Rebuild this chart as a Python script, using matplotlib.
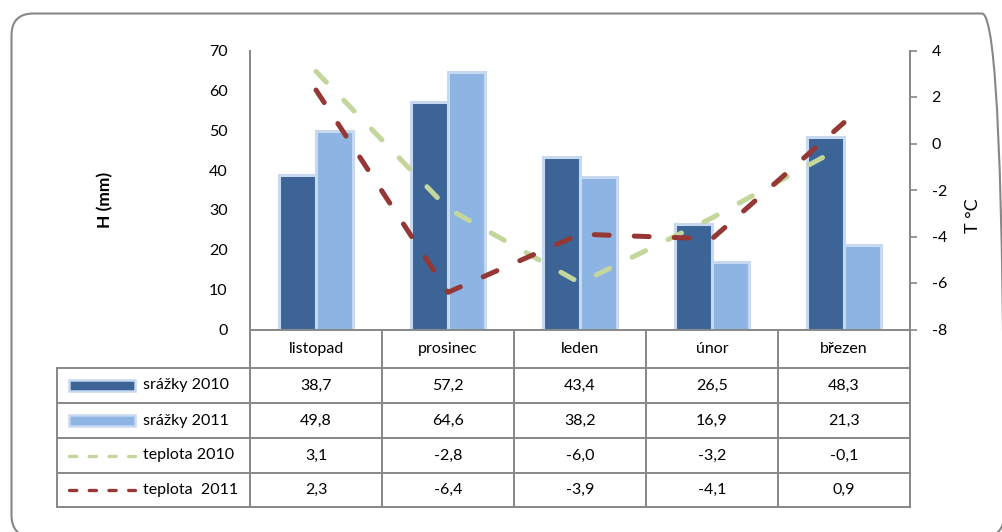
import matplotlib
matplotlib.use("Agg")
import matplotlib.pyplot as plt
from matplotlib.patches import FancyBboxPatch, Rectangle
from matplotlib.lines import Line2D

# ---- data -------------------------------------------------------------
months = ["listopad", "prosinec", "leden", "únor", "březen"]
srazky_2010 = [38.7, 57.2, 43.4, 26.5, 48.3]
srazky_2011 = [49.8, 64.6, 38.2, 16.9, 21.3]
teplota_2010 = [3.1, -2.8, -6.0, -3.2, -0.1]
teplota_2011 = [2.3, -6.4, -3.9, -4.1, 0.9]
series_names = ["srážky 2010", "srážky 2011", "teplota 2010", "teplota  2011"]
h_ticks = list(range(0, 71, 10))
t_ticks = list(range(-8, 5, 2))

# ---- style ------------------------------------------------------------
DARK = "#3c6496"
LIGHT = "#8db4e2"
BORDER = "#c6d9f1"
GREEN = "#c3d69b"
RED = "#953735"
GRID = "#878787"
FS = 11.5

plt.rcParams['font.family'] = ['Lato', 'DejaVu Sans']
plt.rcParams['axes.unicode_minus'] = False
plt.rcParams['lines.scale_dashes'] = False

W, H = 1002, 532
fig = plt.figure(figsize=(W / 100, H / 100), dpi=100)


def fx(x):
    return x / W


def fy(y):
    return 1 - y / H


# plot area (pixel coordinates, origin top-left)
PL, PR, PT, PB = 250, 910, 50.5, 329.5
ax = fig.add_axes([fx(PL), fy(PB), (PR - PL) / W, (PB - PT) / H])
ax2 = ax.twinx()

n = len(months)
x = list(range(n))
bw = 0.28

ax.bar([i - bw / 2 for i in x], srazky_2010, width=bw, color=DARK,
       edgecolor=BORDER, linewidth=2.2, zorder=2)
ax.bar([i + bw / 2 for i in x], srazky_2011, width=bw, color=LIGHT,
       edgecolor=BORDER, linewidth=2.2, zorder=2)
ax.set_xlim(-0.5, n - 0.5)
ax.set_ylim(0, 70)
ax.set_yticks(h_ticks)
ax.set_xticks([])
ax.tick_params(axis='y', length=0, pad=16, labelsize=FS)

for t, col in ((teplota_2010, GREEN), (teplota_2011, RED)):
    ax2.plot(x, t, color=col, lw=3.6, dashes=(10.8, 18),
             dash_capstyle='round', solid_capstyle='round')
ax2.set_ylim(-8, 4)
ax2.set_yticks(t_ticks)
ax2.tick_params(axis='y', length=5, width=1.2, color=GRID, pad=10.5,
                labelsize=FS)

for a in (ax, ax2):
    for s in a.spines.values():
        s.set_visible(False)
ax.spines['left'].set_visible(True)
ax.spines['bottom'].set_visible(True)
ax2.spines['right'].set_visible(True)
for s in (ax.spines['left'], ax.spines['bottom'], ax2.spines['right']):
    s.set_color(GRID)
    s.set_linewidth(1.4)

# axis titles
fig.text(fx(105), fy(200), "H (mm)", rotation=90, ha='center', va='center',
         fontsize=12.5, fontweight='bold')
fig.text(fx(973), fy(216), "T °C", rotation=90, ha='center', va='center',
         fontsize=13)

# ---- data table -------------------------------------------------------
TL = 57
rows_y = [PB, 368, 403, 438, 473, 507]
col_w = (PR - PL) / n
col_x = [PL + i * col_w for i in range(n + 1)]


def hline(x0, x1, y):
    fig.add_artist(Line2D([fx(x0), fx(x1)], [fy(y), fy(y)], color=GRID,
                          lw=1.4, transform=fig.transFigure))


def vline(xv, y0, y1):
    fig.add_artist(Line2D([fx(xv), fx(xv)], [fy(y0), fy(y1)], color=GRID,
                          lw=1.4, transform=fig.transFigure))


for yv in rows_y[1:]:
    hline(TL, PR, yv)
vline(TL, rows_y[1], rows_y[-1])
for xv in col_x:
    vline(xv, PB, rows_y[-1])

# header row with month names
for i, m in enumerate(months):
    fig.text(fx((col_x[i] + col_x[i + 1]) / 2), fy((rows_y[0] + rows_y[1]) / 2),
             m, ha='center', va='center', fontsize=FS)

table_values = [srazky_2010, srazky_2011, teplota_2010, teplota_2011]
for r, vals in enumerate(table_values):
    yc = (rows_y[r + 1] + rows_y[r + 2]) / 2
    for i, v in enumerate(vals):
        fig.text(fx((col_x[i] + col_x[i + 1]) / 2), fy(yc),
                 f"{v:.1f}".replace('.', ','), ha='center', va='center',
                 fontsize=FS)
    fig.text(fx(143), fy(yc), series_names[r], ha='left', va='center',
             fontsize=FS)

# legend keys inside the table
kx0, kx1 = 68.5, 134.5
for r, col in enumerate((DARK, LIGHT)):
    yc = (rows_y[r + 1] + rows_y[r + 2]) / 2
    fig.add_artist(Rectangle((fx(kx0), fy(yc + 5.5)), fx(kx1 - kx0), 11 / H,
                             facecolor=col, edgecolor=BORDER, lw=1.8,
                             transform=fig.transFigure))
for r, col in ((2, GREEN), (3, RED)):
    yc = (rows_y[r + 1] + rows_y[r + 2]) / 2
    fig.add_artist(Line2D([fx(kx0), fx(kx1)], [fy(yc), fy(yc)], color=col,
                          lw=2.4, dashes=(5.2, 9.0), dash_capstyle='round',
                          transform=fig.transFigure))

# ---- rounded outer frame ---------------------------------------------
frame = FancyBboxPatch((11.5 / 100, (H - 537) / 100), (1004 - 11.5) / 100,
                       (537 - 13.5) / 100,
                       boxstyle="round,pad=0,rounding_size=0.22",
                       transform=fig.dpi_scale_trans, facecolor='none',
                       edgecolor=GRID, lw=1.5)
fig.add_artist(frame)

fig.savefig("out.png", dpi=100)
